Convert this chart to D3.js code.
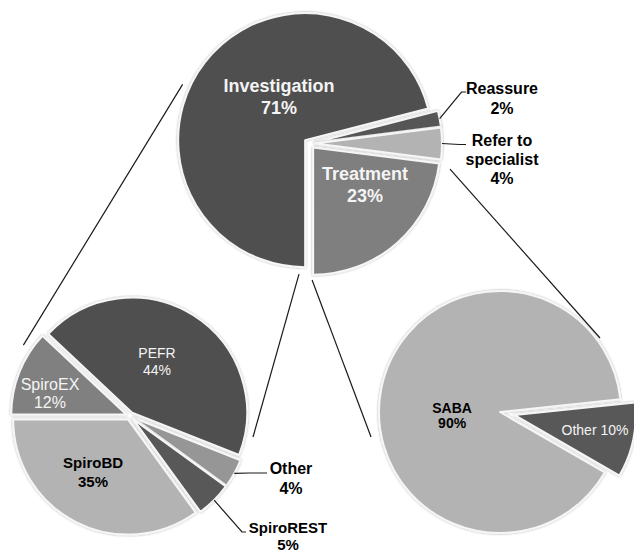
<!DOCTYPE html>
<html>
<head>
<meta charset="utf-8">
<script src="https://cdn.jsdelivr.net/npm/d3@7"></script>
<style>
  html, body { margin: 0; padding: 0; background: #fff; }
  svg { display: block; }
</style>
</head>
<body>
<svg id="chart" width="634" height="552"></svg>
<script>
// Outcome of the initial assessment
const outcomeLabels = ["Investigation", "Reassure", "Refer to specialist", "Treatment"];
const outcomeValues = [71, 2, 4, 23];

// Breakdown of investigations
const investigationLabels = ["SpiroEX", "PEFR", "Other", "SpiroREST", "SpiroBD"];
const investigationValues = [12, 44, 4, 5, 35];

// Breakdown of treatments
const treatmentLabels = ["SABA", "Other"];
const treatmentValues = [90, 10];

const FONT = "'Liberation Sans', Arial, Helvetica, sans-serif";
const rad = deg => deg * Math.PI / 180;
const polar = (cx, cy, deg, dist) => [cx + dist * Math.sin(rad(deg)), cy - dist * Math.cos(rad(deg))];

// Layout of the three pies
const pies = [
  {
    labels: outcomeLabels, values: outcomeValues,
    cx: 309.5, cy: 143.5, r: 127, start: 180,
    explode: [5.5, 5.5, 5.5, 5.5],
    colors: ["#505050", "#575757", "#b3b3b3", "#7f7f7f"],
    text: [
      { kind: "in", angle: 326.7, dist: 55.6, size: 18, weight: "bold", fill: "#f4f4f4", lh: 22 },
      { kind: "out", elbow: [152, -51.5], end: [156.5, -51.5], pos: [192.5, -45.5], size: 16, weight: "bold", fill: "#000", lh: 20 },
      { kind: "out", elbow: [150, 1], end: [156.5, 1], pos: [192.5, 15.5], size: 16, weight: "bold", fill: "#000", lh: 19, lines: ["Refer to", "specialist"] },
      { kind: "in", angle: 126.8, dist: 69.3, size: 18, weight: "bold", fill: "#f4f4f4", lh: 22 }
    ]
  },
  {
    labels: investigationLabels, values: investigationValues,
    cx: 130, cy: 416, r: 115, start: 270,
    explode: [4, 4, 4, 4, 4],
    colors: ["#808080", "#505050", "#969696", "#595959", "#b3b3b3"],
    text: [
      { kind: "in", angle: 285.4, dist: 83, size: 16, weight: "normal", fill: "#f4f4f4", lh: 18 },
      { kind: "in", angle: 26.4, dist: 60.8, size: 14, weight: "normal", fill: "#f4f4f4", lh: 17 },
      { kind: "out", elbow: [120, 57], end: [137, 57], pos: [161, 62], size: 16, weight: "bold", fill: "#000", lh: 20 },
      { kind: "out", elbow: [112, 116], end: [116, 116], pos: [158, 119.5], size: 15, weight: "bold", fill: "#000", lh: 17 },
      { kind: "in", angle: 213.2, dist: 67.5, size: 15, weight: "bold", fill: "#000", lh: 19 }
    ]
  },
  {
    labels: treatmentLabels, values: treatmentValues,
    cx: 500, cy: 412, r: 121, start: 120,
    explode: [0, 15],
    colors: ["#b3b3b3", "#595959"],
    text: [
      { kind: "in", angle: 266.2, dist: 48, size: 14, weight: "bold", fill: "#000", lh: 15 },
      { kind: "in", angle: 100.7, dist: 96.7, size: 14, weight: "normal", fill: "#f4f4f4", lh: 15, single: true }
    ]
  }
];

// Lines tying each breakdown pie to its parent slice: [pie, angle, distance]
const connectors = [
  { from: [0, 295, 140], to: [1, 303.6, 128] },
  { from: [0, 184.6, 131], to: [1, 99.7, 124.8] },
  { from: [0, 178.9, 136.5], to: [2, 259, 131.4] },
  { from: [0, 100.3, 142.8], to: [2, 53.5, 124.4] }
];

const svg = d3.select("#chart");

const defs = svg.append("defs");
const glow = defs.append("filter").attr("id", "sliceShadow")
  .attr("x", "-10%").attr("y", "-10%").attr("width", "120%").attr("height", "120%");
glow.append("feDropShadow").attr("dx", 0).attr("dy", 0)
  .attr("stdDeviation", 1.2).attr("flood-color", "#000").attr("flood-opacity", 0.35);

// Connector lines
svg.append("g").selectAll("line").data(connectors).join("line")
  .attr("x1", d => polar(pies[d.from[0]].cx, pies[d.from[0]].cy, d.from[1], d.from[2])[0])
  .attr("y1", d => polar(pies[d.from[0]].cx, pies[d.from[0]].cy, d.from[1], d.from[2])[1])
  .attr("x2", d => polar(pies[d.to[0]].cx, pies[d.to[0]].cy, d.to[1], d.to[2])[0])
  .attr("y2", d => polar(pies[d.to[0]].cx, pies[d.to[0]].cy, d.to[1], d.to[2])[1])
  .attr("stroke", "#1a1a1a").attr("stroke-width", 1.2);

pies.forEach(p => {
  const rows = p.labels.map((label, i) => ({ label, value: p.values[i], i }));
  const layout = d3.pie().sort(null).value(d => d.value)
    .startAngle(rad(p.start)).endAngle(rad(p.start) + 2 * Math.PI);
  const arcs = layout(rows);
  const arc = d3.arc().innerRadius(0).outerRadius(p.r);

  const g = svg.append("g").attr("transform", `translate(${p.cx},${p.cy})`);

  arcs.forEach(a => {
    const mid = (a.startAngle + a.endAngle) / 2;
    const off = p.explode[a.data.i];
    a.ox = off * Math.sin(mid);
    a.oy = -off * Math.cos(mid);
    a.mid = mid;
  });

  // Slices
  g.append("g").selectAll("path").data(arcs).join("path")
    .attr("transform", d => `translate(${d.ox},${d.oy})`)
    .attr("d", arc)
    .attr("fill", d => p.colors[d.data.i])
    .attr("stroke", "#f6f6f6")
    .attr("stroke-width", 2)
    .attr("stroke-linejoin", "round")
    .attr("filter", "url(#sliceShadow)");

  // Leader lines for labels placed outside
  arcs.forEach(a => {
    const t = p.text[a.data.i];
    if (t.kind !== "out") return;
    const sx = a.ox + p.r * Math.sin(a.mid);
    const sy = a.oy - p.r * Math.cos(a.mid);
    g.append("polyline")
      .attr("points", [[sx, sy], t.elbow, t.end].map(q => q.join(",")).join(" "))
      .attr("fill", "none").attr("stroke", "#1a1a1a").attr("stroke-width", 1.2);
  });

  // Labels
  arcs.forEach(a => {
    const t = p.text[a.data.i];
    const pct = `${a.data.value}%`;
    let lines;
    if (t.single) lines = [`${a.data.label} ${pct}`];
    else lines = (t.lines || [a.data.label]).concat([pct]);
    const [x, y] = t.kind === "in" ? polar(0, 0, t.angle, t.dist) : t.pos;
    const y0 = y - (lines.length - 1) * t.lh / 2;
    const text = g.append("text")
      .attr("text-anchor", "middle")
      .attr("font-family", FONT)
      .attr("font-size", t.size)
      .attr("font-weight", t.weight)
      .attr("fill", t.fill);
    lines.forEach((ln, k) => {
      text.append("tspan")
        .attr("x", x).attr("y", y0 + k * t.lh)
        .attr("dominant-baseline", "central")
        .text(ln);
    });
  });
});
</script>
</body>
</html>
